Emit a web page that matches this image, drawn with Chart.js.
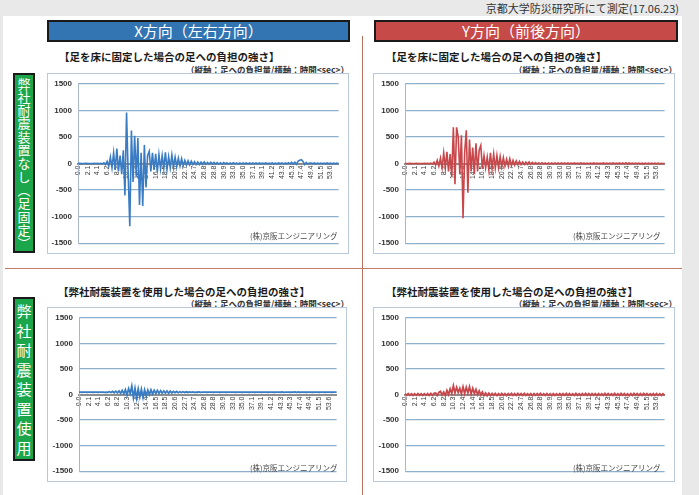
<!DOCTYPE html>
<html><head><meta charset="utf-8">
<script src="https://cdn.jsdelivr.net/npm/chart.js@4.4.1/dist/chart.umd.min.js"></script>
<style>
body{margin:0;width:699px;height:495px;background:#e9e9e9;position:relative;overflow:hidden;font-family:"Noto Sans CJK JP",sans-serif;}
.a{position:absolute;white-space:nowrap;}
#panel{left:3px;top:16px;width:679px;height:479px;background:#fff;}
#src{right:20px;top:0px;font-size:11px;line-height:16px;color:#333;}
.hdr{top:20px;height:22px;box-sizing:border-box;border:2px solid #1a1a1a;color:#fff;font-size:15px;text-align:center;line-height:18px;}
.side{box-sizing:border-box;border:2px solid #1a1a1a;background:#1ba64b;color:#fff;display:flex;flex-direction:column;align-items:center;justify-content:center;overflow:hidden;}
.side b{display:block;font-weight:normal;text-align:center;width:18px;}
.s1 b{height:13.3px;line-height:13.3px;font-size:13px;}
.s2 b{height:19.5px;line-height:19.5px;font-size:15px;}
.box{box-sizing:border-box;border:1px solid #b9c9d9;background:#fff;}
.ttl{font-size:10.5px;font-weight:bold;color:#1a1a1a;line-height:12px;}
.sub{font-size:8.5px;font-weight:bold;color:#333;line-height:10px;text-align:right;}
.wm{font-size:7.5px;color:#444;line-height:9px;}
canvas{position:absolute;}
</style></head><body>
<div class="a" id="panel"></div>
<div class="a" id="src">京都大学防災研究所にて測定(17.06.23)</div>
<div class="a hdr" style="left:47px;width:303px;background:#3374b2;">X方向（左右方向）</div>
<div class="a hdr" style="left:374px;width:304px;background:#c64a48;">Y方向（前後方向）</div>
<div class="a" style="left:362px;top:36px;width:1px;height:459px;background:#b8705c;"></div>
<div class="a" style="left:5px;top:268px;width:677px;height:1px;background:#c07c68;"></div>
<div class="a side s1" style="left:13px;top:73px;width:22px;height:180px;"><b>弊</b><b>社</b><b>耐</b><b>震</b><b>装</b><b>置</b><b>な</b><b>し</b><b>︵</b><b>足</b><b>固</b><b>定</b><b>︶</b></div>
<div class="a side s2" style="left:13px;top:297px;width:22px;height:164px;"><b>弊</b><b>社</b><b>耐</b><b>震</b><b>装</b><b>置</b><b>使</b><b>用</b></div>

<div class="a ttl" style="left:59px;top:51px;">【足を床に固定した場合の足への負担の強さ】</div>
<div class="a sub" style="right:350px;top:64px;">（縦軸：足への負担量/横軸：時間&lt;sec&gt;）</div>
<div class="a ttl" style="left:386px;top:51px;">【足を床に固定した場合の足への負担の強さ】</div>
<div class="a sub" style="right:22px;top:64px;">（縦軸：足への負担量/横軸：時間&lt;sec&gt;）</div>
<div class="a ttl" style="left:58px;top:286px;">【弊社耐震装置を使用した場合の足への負担の強さ】</div>
<div class="a sub" style="right:350px;top:298px;">（縦軸：足への負担量/横軸：時間&lt;sec&gt;）</div>
<div class="a ttl" style="left:386px;top:286px;">【弊社耐震装置を使用した場合の足への負担の強さ】</div>
<div class="a sub" style="right:22px;top:298px;">（縦軸：足への負担量/横軸：時間&lt;sec&gt;）</div>

<div class="a box" style="left:47px;top:73px;width:302px;height:181px;"></div>
<div class="a box" style="left:373px;top:73px;width:302px;height:181px;"></div>
<div class="a box" style="left:47px;top:307px;width:300px;height:175px;"></div>
<div class="a box" style="left:373px;top:307px;width:302px;height:175px;"></div>
<canvas id="c1" width="302" height="181" style="left:47px;top:73px;"></canvas>
<canvas id="c2" width="302" height="181" style="left:373px;top:73px;"></canvas>
<canvas id="c3" width="300" height="175" style="left:47px;top:307px;"></canvas>
<canvas id="c4" width="302" height="175" style="left:373px;top:307px;"></canvas>
<div class="a wm" style="left:250px;top:231px;">(株)京阪エンジニアリング</div>
<div class="a wm" style="left:573px;top:231px;">(株)京阪エンジニアリング</div>
<div class="a wm" style="left:250px;top:463px;">(株)京阪エンジニアリング</div>
<div class="a wm" style="left:573px;top:463px;">(株)京阪エンジニアリング</div>
<script>
const tickLabels = ['0.0','2.1','4.1','6.2','8.2','10.3','12.4','14.4','16.5','18.5','20.6','22.7','24.7','26.8','28.8','30.9','33.0','35.0','37.1','39.1','41.2','43.3','45.3','47.4','49.4','51.5','53.6'];
const samplesPerTick = 6;
const yTicks = [-1500,-1000,-500,0,500,1000,1500];

// X direction, foot fixed (no isolator)
const xFixed = [
0,2,-2,1,-1,2,-2,1,0,-1,2,-1,
3,-3,5,-6,12,-20,40,-50,120,-80,200,-120,
280,-150,150,-200,250,-600,960,-200,-1180,620,-350,520,
-250,480,-780,200,-800,350,-450,150,230,-150,200,-120,
180,-160,170,-100,150,-90,210,-110,130,-80,160,-70,
120,-60,100,-50,90,-40,60,-35,50,-25,45,-20,
35,-20,30,-18,25,-15,30,-15,20,-12,25,-10,
20,-12,18,-10,15,-10,18,-8,15,-10,12,-8,
15,-8,12,-10,10,-8,12,-6,10,-8,10,-6,
12,-6,10,-8,10,-5,8,-6,10,-5,8,-6,
10,-5,8,-6,10,-5,12,-8,10,-6,15,-8,
20,-10,25,-15,45,60,70,40,-20,20,-10,10,
8,-6,10,-5,8,-6,8,-5,8,-6,10,-5,
8,-6,8,-5,6,-4];
// Y direction, foot fixed (no isolator)
const yFixed = [
0,1,-1,2,-2,1,-1,2,-1,1,-2,1,
2,-2,4,-5,8,-10,25,-30,60,-50,100,-80,
200,-80,220,-150,180,-250,680,-390,680,500,-200,530,
-1030,200,625,-550,450,-150,300,-200,380,-150,250,340,
-100,150,-80,120,-120,200,-100,180,-90,150,-80,130,
-60,110,-50,80,-40,90,-40,60,-30,50,-25,40,
-20,30,-18,25,-15,30,-12,20,-12,18,-10,15,
-10,15,-8,12,-10,12,-8,10,-8,12,-6,10,
-8,10,-6,12,-8,10,-6,8,-6,10,-5,8,
-6,10,-5,8,-6,8,-5,8,-6,10,-5,8,
-6,8,-5,10,-6,8,-5,8,-6,10,-5,8,
-6,10,-8,12,-6,15,-8,10,-6,8,-5,8,
-6,8,-5,6,-5,8,-4,6,-5,6,-4,6,
-5,6,-4,5,-4,5];
// X direction, with isolator
const xIso = [
45,47,44,46,45,44,46,45,47,44,46,45,
44,46,45,47,43,48,42,55,38,60,35,65,
30,70,25,80,15,95,-10,115,20,165,-60,120,
-70,110,-50,100,-60,90,-30,85,0,90,10,80,
20,80,20,75,25,70,30,70,25,65,30,60,
35,60,35,55,40,55,38,52,40,50,42,50,
42,48,44,50,43,48,45,47,44,48,45,46,
44,47,45,46,44,48,45,46,44,47,45,46,
45,47,44,46,45,48,44,46,45,47,44,46,
45,47,44,46,45,47,44,46,45,47,44,46,
45,48,44,46,45,47,44,50,43,47,45,46,
44,47,45,50,43,52,44,48,45,46,44,47,
45,46,44,47,45,46,44,47,45,46,44,46,
45,46,44,46,45,45];
// Y direction, with isolator
const yIso = [
15,-15,18,-16,15,-18,16,-15,18,-16,15,-17,
16,-15,18,-18,20,-15,22,30,-20,40,60,-10,
50,-20,80,0,110,20,170,30,140,40,120,10,
150,20,140,30,150,10,120,20,100,0,70,-10,
50,-20,30,-25,25,-20,22,-18,20,-20,18,-16,
20,-18,16,-20,18,-15,20,-17,16,-18,20,-15,
18,-16,20,-18,15,-17,18,-20,16,-15,18,-17,
20,-15,16,-18,18,-16,15,-20,18,-17,16,-15,
18,-20,16,-15,20,-17,18,-16,15,-18,20,-16,
16,-18,18,-15,20,-17,16,-18,18,-15,16,-20,
18,-16,15,-18,20,-17,18,-15,16,-18,20,-16,
16,-18,20,-15,18,-17,15,-20,18,-16,20,-15,
18,-17,16,-18,20,-15,18,-16,15,-18,16,-17,
18,-15,16,-18,15,-16];

const labels = xFixed.map((_, i) => (i % samplesPerTick === 0 && tickLabels[i / samplesPerTick]) ? tickLabels[i / samplesPerTick] : '');

function make(id, data, color, pad, yWidth, lw) {
  new Chart(document.getElementById(id), {
    type: 'line',
    data: { labels, datasets: [{ data, borderColor: color, borderWidth: lw, pointRadius: 0, tension: 0, fill: false }] },
    options: {
      responsive: false, animation: false, devicePixelRatio: 1,
      layout: { padding: pad },
      plugins: { legend: { display: false }, tooltip: { enabled: false } },
      scales: {
        x: {
          type: 'category', position: { y: 0 },
          grid: { display: false, drawTicks: false },
          border: { display: true, color: '#8e8e8e', width: 2 },
          ticks: { autoSkip: false, minRotation: 90, maxRotation: 90, padding: 2, color: '#3a3a3a',
                   font: { family: 'Liberation Sans', size: 7 } }
        },
        y: {
          min: -1500, max: 1500,
          afterBuildTicks: s => { s.ticks = yTicks.map(v => ({ value: v })); },
          afterFit: s => { s.width = yWidth; },
          grid: { color: '#8fb0cc', lineWidth: 1.2, drawTicks: false },
          border: { color: '#a8b8c8', width: 1 },
          ticks: { padding: 6, color: '#333', callback: v => String(v),
                   font: { family: 'Liberation Sans', size: 8, weight: 'bold' } }
        }
      }
    }
  });
}
make('c1', xFixed, '#3a7cc4', { top: 10, bottom: 8, right: 7, left: 0 }, 31, 1.6);
make('c2', yFixed, '#c8474b', { top: 10, bottom: 9, right: 3, left: 0 }, 32, 1.6);
make('c3', xIso, '#3a7cc4', { top: 8, bottom: 6, right: 5, left: 0 }, 32, 1.8);
make('c4', yIso, '#c8474b', { top: 8, bottom: 6, right: 5, left: 0 }, 32, 1.8);
</script>
</body></html>
